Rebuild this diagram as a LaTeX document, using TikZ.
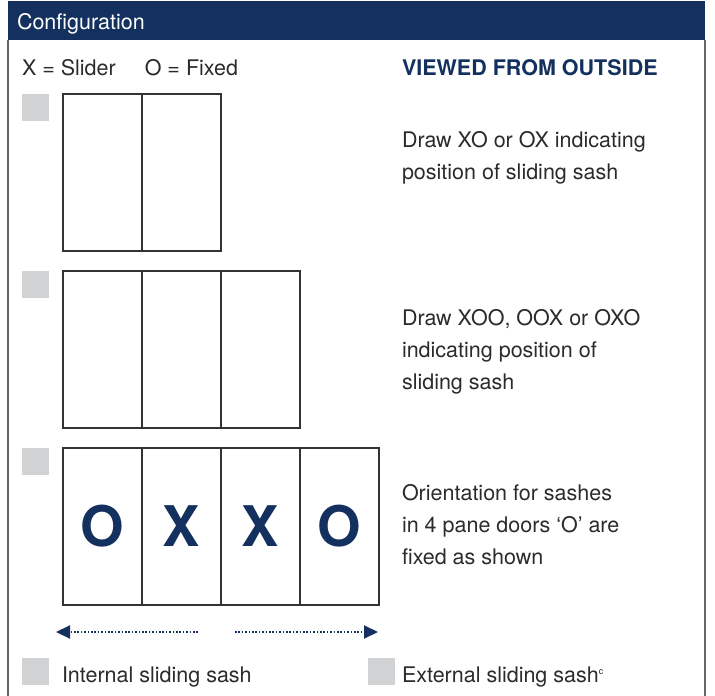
\documentclass[tikz,border=0pt]{standalone}
\usepackage{fontspec}
\setmainfont{TeX Gyre Heros}
\usetikzlibrary{arrows.meta,positioning}
\definecolor{navy}{HTML}{13305E}
\definecolor{framegray}{HTML}{666666}
\definecolor{boxgray}{HTML}{D1D2D4}
\definecolor{textgray}{HTML}{2B2B2B}

\begin{document}
\begin{tikzpicture}[
        x=1pt, y=-1pt,
        every node/.style={font=\fontsize{21.5}{26}\selectfont, text=textgray, inner sep=0pt, outer sep=0pt},
        tick/.style={fill=boxgray, minimum size=27pt, anchor=north west},
        pane/.style={draw=black!80, line width=1.2pt, minimum width=79pt, minimum height=157pt, anchor=north west},
        letter/.style={font=\fontsize{56}{66}\selectfont\bfseries, text=navy},
        note/.style={anchor=base west},
        slide/.style={navy, line width=2pt, dash pattern=on 1.6pt off 1.8pt, -{Triangle[length=14pt,width=13pt]}}
    ]

    \useasboundingbox (0,0) rectangle (715,696);

    %================================================
    % Header and frame
    %================================================
    \fill[navy] (8,0.5) rectangle (705,40);
    \draw[framegray, line width=1.5pt] (8,40) -- (8,696) (705,40) -- (705,696);
    \node[note, text=white] (title) at (17,29) {Configuration};

    \node[note] (key) at (22,75) {X = Slider\hspace{29pt}O = Fixed};
    \node[note, text=navy, font=\fontsize{21.5}{26}\selectfont\bfseries] (view) at (402,75) {VIEWED FROM OUTSIDE};

    %================================================
    % Two pane door
    %================================================
    \node[tick] (t1) at (22,94) {};
    \node[pane] (p11) at (63,94) {};
    \node[pane, right=0pt of p11] (p12) {};

    \node[note] (n11) at (402,147) {Draw XO or OX indicating};
    \node[note] (n12) at (402,179) {position of sliding sash};

    %================================================
    % Three pane door
    %================================================
    \node[tick] (t2) at (22,271) {};
    \node[pane] (p21) at (63,271) {};
    \node[pane, right=0pt of p21] (p22) {};
    \node[pane, right=0pt of p22] (p23) {};

    \node[note] (n21) at (402,325) {Draw XOO, OOX or OXO};
    \node[note] (n22) at (402,357) {indicating position of};
    \node[note] (n23) at (402,389) {sliding sash};

    %================================================
    % Four pane door
    %================================================
    \node[tick] (t3) at (22,448) {};
    \node[pane, letter] (p31) at (63,448) {O};
    \node[pane, letter, right=0pt of p31] (p32) {X};
    \node[pane, letter, right=0pt of p32] (p33) {X};
    \node[pane, letter, right=0pt of p33] (p34) {O};

    \node[note] (n31) at (402,500) {Orientation for sashes};
    \node[note] (n32) at (402,532) {in 4 pane doors ‘O’ are};
    \node[note] (n33) at (402,564) {fixed as shown};

    %================================================
    % Sliding directions and sash type
    %================================================
    \coordinate (la) at (198,632);
    \coordinate (lb) at (56,632);
    \coordinate (ra) at (235,632);
    \coordinate (rb) at (378,632);
    \draw[slide] (la) -- (lb);
    \draw[slide] (ra) -- (rb);

    \node[tick] (t4) at (22,658) {};
    \node[note] (int) at (62,682) {Internal sliding sash};
    \node[tick] (t5) at (368,658) {};
    \node[note] (ext) at (402,682) {External sliding sash\raisebox{8pt}{\fontsize{9}{9}\selectfont c}};

\end{tikzpicture}
\end{document}
